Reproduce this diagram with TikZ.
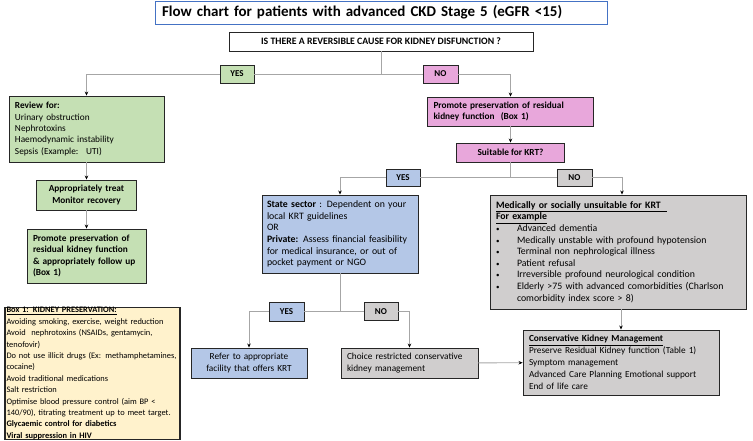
\documentclass[tikz,border=0pt]{standalone}
\usepackage{fontspec}
\setmainfont{Carlito}
\usetikzlibrary{arrows.meta, calc, positioning}
\definecolor{ckdgreen}{HTML}{C5E0B4}
\definecolor{ckdpink}{HTML}{E8A7DB}
\definecolor{ckdblue}{HTML}{B4C7E7}
\definecolor{ckdgray}{HTML}{D0CECE}
\definecolor{ckdcream}{HTML}{FFF2CC}
\definecolor{ckdtitle}{HTML}{4472C4}
\definecolor{ckdline}{HTML}{A6A6A6}
\definecolor{ckdedge}{HTML}{262626}

\newcommand{\bul}{\makebox[21pt][l]{\scriptsize\textbullet}}

\begin{document}
\hyphenpenalty=10000
\begin{tikzpicture}[x=1pt, y=-1pt,
                    every node/.style={font=\fontsize{9.3}{11.4}\selectfont, inner sep=0pt},
                    box/.style={draw=ckdedge, line width=0.9pt, align=left},
                    tag/.style={draw=ckdedge, line width=0.9pt, font=\fontsize{9}{11}\selectfont\bfseries,
                                minimum width=34pt, minimum height=18pt},
                    link/.style={draw=ckdline, line width=0.9pt},
                    arrow/.style={link, -{Stealth[length=4pt, width=3.5pt, color=black]}}
                ]
                \useasboundingbox (0,0) rectangle (753,440);

                % header
                \node[draw=ckdtitle, line width=0.9pt, fill=white, minimum width=452pt, minimum height=23pt,
                      text width=438pt, align=left, font=\fontsize{15}{17}\selectfont\bfseries] (title) at (381,12.5)
                      {Flow chart for patients with advanced CKD Stage 5 (eGFR <15)};
                \node[box, minimum width=304pt, minimum height=19pt, font=\fontsize{9.8}{11}\selectfont\bfseries]
                      (question) at (381,41.5) {IS THERE A REVERSIBLE CAUSE FOR KIDNEY DISFUNCTION ?};

                % first answer
                \node[tag, fill=ckdgreen] (yes1) at (237,74) {YES};
                \node[tag, fill=ckdpink, minimum width=35pt] (no1) at (440.5,74) {NO};

                % left branch
                \node[box, fill=ckdgreen, minimum width=155pt, minimum height=66pt, text width=143pt]
                      (review) at (86.5,129)
                      {\textbf{Review for:}\\Urinary obstruction\\Nephrotoxins\\Haemodynamic instability\\Sepsis (Example:~ UTI)};
                \node[box, fill=ckdgreen, minimum width=100pt, minimum height=30pt, text width=88pt,
                      align=center, font=\fontsize{9.3}{11.4}\selectfont\bfseries]
                      (treat) at (86.5,195) {Appropriately treat\\Monitor recovery};
                \node[box, fill=ckdgreen, minimum width=119pt, minimum height=54pt, text width=107pt,
                      font=\fontsize{9.3}{11.4}\selectfont\bfseries]
                      (keepg) at (86.5,256)
                      {Promote preservation of\\residual kidney function\\\& appropriately follow up\\(Box 1)};

                % right branch
                \node[box, fill=ckdpink, minimum width=166pt, minimum height=29pt, text width=154pt,
                      font=\fontsize{9.3}{11.4}\selectfont\bfseries]
                      (keepp) at (510.5,111.5)
                      {Promote preservation of residual\\kidney function~ (Box 1)};
                \node[box, fill=ckdpink, minimum width=108pt, minimum height=19pt, align=center,
                      font=\fontsize{9.3}{11}\selectfont\bfseries]
                      (suitable) at (510.5,152.5) {Suitable for KRT?};

                \node[tag, fill=ckdblue, minimum height=17pt] (yes2) at (403,177.5) {YES};
                \node[tag, fill=ckdgray, minimum width=35pt, minimum height=17pt] (no2) at (574.5,177.5) {NO};

                \node[box, fill=ckdblue, minimum width=156pt, minimum height=78pt, text width=146pt,
                      font=\fontsize{9.8}{11.6}\selectfont]
                      (state) at (340,234)
                      {\textbf{State sector} : Dependent on your\\local KRT guidelines\\OR\\
                       \textbf{Private:} Assess financial feasibility\\for medical insurance, or out of\\pocket payment or NGO};
                \node[box, fill=ckdgray, minimum width=256pt, minimum height=114pt, text width=244pt,
                      font=\fontsize{9.8}{11.6}\selectfont]
                      (unsuit) at (618,252)
                      {\underline{\textbf{Medically or socially unsuitable for KRT}\hspace{6pt}}\\
                       \underline{\textbf{For example}}\\
                       \bul Advanced dementia\\
                       \bul Medically unstable with profound hypotension\\
                       \bul Terminal non nephrological illness\\
                       \bul Patient refusal\\
                       \bul Irreversible profound neurological condition\\
                       \bul Elderly >75 with advanced comorbidities (Charlson\\
                       \hspace*{21pt}comorbidity index score > 8)};

                \node[tag, fill=ckdblue, minimum width=35pt, minimum height=19pt] (yes3) at (286.5,311.5) {YES};
                \node[tag, fill=ckdgray] (no3) at (381,311.5) {NO};

                \node[box, fill=ckdblue, minimum width=116pt, minimum height=30pt, text width=108pt, align=center]
                      (refer) at (249,363) {Refer to appropriate\\facility that offers KRT};
                \node[box, fill=ckdgray, minimum width=137pt, minimum height=30pt, text width=125pt]
                      (choice) at (409.5,363) {Choice restricted conservative\\kidney management};
                \node[box, fill=ckdgray, minimum width=196pt, minimum height=65pt, text width=184pt,
                      font=\fontsize{9.3}{12}\selectfont]
                      (ckm) at (621,362.5)
                      {\underline{\textbf{Conservative Kidney Management}}\\
                       Preserve Residual Kidney function (Table 1)\\
                       Symptom management\\
                       Advanced Care Planning Emotional support\\
                       End of life care};

                % box 1
                \node[box, fill=ckdcream, line width=1.3pt, minimum width=175pt, minimum height=131pt,
                      text width=172pt, font=\fontsize{8.4}{11.4}\selectfont]
                      (box1) at (92.5,373.5)
                      {\underline{\textbf{Box 1: KIDNEY PRESERVATION:}}\\
                       Avoiding smoking, exercise, weight reduction\\
                       Avoid~ nephrotoxins (NSAIDs, gentamycin,\\
                       tenofovir)\\
                       \mbox{Do not use illicit drugs (Ex: methamphetamines,}\\
                       cocaine)\\
                       Avoid traditional medications\\
                       Salt restriction\\
                       Optimise blood pressure control (aim BP <\\
                       \mbox{140/90), titrating treatment up to meet target.}\\
                       \textbf{Glycaemic control for diabetics}\\
                       \textbf{Viral suppression in HIV}};

                % connectors
                \coordinate (s1) at (question.south |- yes1);
                \draw[link] (question) -- (s1);
                \draw[link] (s1) -- (yes1);
                \draw[link] (s1) -- (no1);
                \draw[arrow] (yes1) -| (review);
                \draw[arrow] (no1) -| (keepp);
                \draw[arrow] (review) -- (treat);
                \draw[arrow] (treat) -- (keepg);
                \draw[arrow] (keepp) -- (suitable);

                \coordinate (s2) at (suitable.south |- yes2);
                \draw[link] (suitable) -- (s2);
                \draw[link] (s2) -- (yes2);
                \draw[link] (s2) -- (no2);
                \draw[arrow] (yes2) -| (state);
                \draw[arrow] (no2) -| ($(unsuit.north)+(4,0)$);

                \coordinate (s3) at (state.south |- yes3);
                \draw[link] (state) -- (s3);
                \draw[link] (s3) -- (yes3);
                \draw[link] (s3) -- (no3);
                \draw[arrow] (yes3) -| (refer);
                \draw[arrow] (no3) -| (choice);
                \draw[arrow] (choice) -- (ckm);
                \draw[arrow] (unsuit.south -| ckm) -- (ckm);
            \end{tikzpicture}
\end{document}
